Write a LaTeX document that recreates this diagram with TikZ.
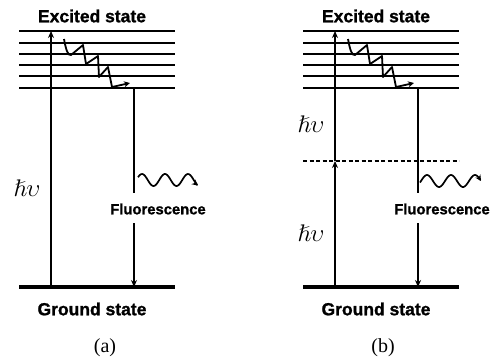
\documentclass[tikz,border=0pt]{standalone}
\usepackage{amssymb}
\usepackage{fontspec}
\setmainfont{Liberation Sans}[BoldFeatures={FakeBold=1.2}]
\newfontfamily\serifnum{Liberation Serif}
\usetikzlibrary{arrows.meta}
\tikzset{
  level/.style={line width=1.3pt},
  ground/.style={line width=3.2pt},
  uparrow/.style={line width=1.8pt,-{Stealth[length=7pt,width=6pt]}},
  photon/.style={line width=1.7pt,-{Stealth[length=6pt,width=6pt]}},
  statelbl/.style={font=\fontsize{17.5}{19}\selectfont\bfseries, inner sep=0pt},
  fluolbl/.style={font=\fontsize{14.8}{16}\selectfont\bfseries, inner sep=0pt},
  caplbl/.style={font=\serifnum\fontsize{20}{22}\selectfont, inner sep=0pt},
  hvlbl/.style={font=\fontsize{24}{26}\selectfont, inner sep=0pt}
}
\begin{document}
\begin{tikzpicture}[x=1pt,y=-1pt]
\useasboundingbox (0,0) rectangle (500,360);
\foreach \ox/\pn in {0/a,284/b}{
  \begin{scope}[xshift=\ox pt]
    % levels
    \foreach \yy in {31,43,54,65,76,88}{
      \draw[level] (19,\yy) -- (175,\yy);
    }
    \draw[ground] (19,287) -- (175,287);
    \node[statelbl] (exc\pn) at (92,16) {Excited state};
    \node[statelbl] (gnd\pn) at (92,309) {Ground state};
    \coordinate (top\pn) at (51,31);
    \coordinate (bot\pn) at (51,287);
    \coordinate (fs\pn) at (134,88);
    \coordinate (fb\pn) at (134,287);
    % relaxation zigzag
    \draw[line width=1.8pt,line join=round,-{Stealth[length=6pt,width=6pt]}]
      (64,39) .. controls (66,50) and (68,56) .. (71,55)
      -- (83,45) -- (86,64) -- (98,56) -- (99,77) -- (108,67) -- (112,87) -- (130,83);
  \end{scope}
}
% fluorescence arrows (a)
\node[fluolbl] (fla) at (158,209) {Fluorescence};
\draw[line width=1.8pt] (fsa) -- (134,193);
\draw[uparrow] (134,223) -- (fba);
\draw[photon] plot[smooth,domain=138:198,samples=60] (\x,{180-6*cos((\x-142)/23*360)});
% (a) excitation
\draw[uparrow] (bota) -- (topa);
\node[hvlbl] (hva) at (27,188) {$\hslash\upsilon$};
\node[caplbl] (capa) at (105,348) {(a)};
% (b)
\node[fluolbl] (flb) at (442,209) {Fluorescence};
\draw[line width=1.8pt] (fsb) -- (418,193);
\draw[uparrow] (418,223) -- (fbb);
\draw[photon] plot[smooth,domain=420:481,samples=60] (\x,{181-6*cos((\x-427)/24*360)});
\coordinate (midb) at (335,161);
\draw[line width=1.2pt, dash pattern=on 4pt off 2.5pt] (303,161) -- (459,161);
\draw[uparrow] (botb) -- (midb);
\draw[uparrow] (midb) -- (topb);
\node[hvlbl] (hvb1) at (311,124) {$\hslash\upsilon$};
\node[hvlbl] (hvb2) at (311,233) {$\hslash\upsilon$};
\node[caplbl] (capb) at (383,348) {(b)};
\end{tikzpicture}
\end{document}
